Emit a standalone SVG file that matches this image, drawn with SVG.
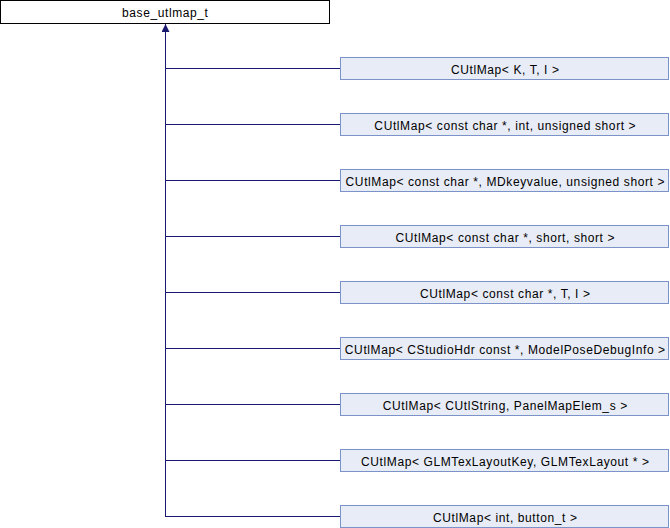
<svg xmlns="http://www.w3.org/2000/svg" width="670" height="528" viewBox="0 0 670 528">
<defs>
<style>
text{font-family:"Liberation Sans",Arial,sans-serif;font-size:12px;letter-spacing:0.6px;fill:#000;text-anchor:middle}
.child rect{fill:#e8ecf6;stroke:#7b93c8;stroke-width:1}
.base rect{fill:#fff;stroke:#000;stroke-width:1}
.edges path{fill:none;stroke:#191970;stroke-width:1}
</style>
<marker id="arr" viewBox="0 0 10 10" refX="10" refY="5" markerWidth="8" markerHeight="8" markerUnits="userSpaceOnUse" orient="auto">
<path d="M0,0 L10,5 L0,10 z" fill="#191970"/>
</marker>
</defs>
<rect width="670" height="528" fill="#fff"/>
<g id="edges" class="edges">
<path d="M165.5,516.5 V24" marker-end="url(#arr)"/>
<path d="M165,68.5 H341"/>
<path d="M165,124.5 H341"/>
<path d="M165,180.5 H341"/>
<path d="M165,236.5 H341"/>
<path d="M165,292.5 H341"/>
<path d="M165,348.5 H341"/>
<path d="M165,404.5 H341"/>
<path d="M165,460.5 H341"/>
<path d="M165,516.5 H341"/>
</g>
<g id="base_utlmap_t" class="base"><rect x="0.5" y="0.5" width="329" height="23"/><text x="165.3" y="16.5">base_utlmap_t</text></g>
<g id="n1" class="child"><rect x="340.5" y="57.5" width="328" height="22"/><text x="505.3" y="73.5">CUtlMap&lt; K, T, I &gt;</text></g>
<g id="n2" class="child"><rect x="340.5" y="113.5" width="328" height="22"/><text x="505.3" y="129.5">CUtlMap&lt; const char *, int, unsigned short &gt;</text></g>
<g id="n3" class="child"><rect x="340.5" y="169.5" width="328" height="22"/><text x="505.3" y="185.5">CUtlMap&lt; const char *, MDkeyvalue, unsigned short &gt;</text></g>
<g id="n4" class="child"><rect x="340.5" y="225.5" width="328" height="22"/><text x="505.3" y="241.5">CUtlMap&lt; const char *, short, short &gt;</text></g>
<g id="n5" class="child"><rect x="340.5" y="281.5" width="328" height="22"/><text x="505.3" y="297.5">CUtlMap&lt; const char *, T, I &gt;</text></g>
<g id="n6" class="child"><rect x="340.5" y="337.5" width="328" height="22"/><text x="505.3" y="353.5">CUtlMap&lt; CStudioHdr const *, ModelPoseDebugInfo &gt;</text></g>
<g id="n7" class="child"><rect x="340.5" y="393.5" width="328" height="22"/><text x="505.3" y="409.5">CUtlMap&lt; CUtlString, PanelMapElem_s &gt;</text></g>
<g id="n8" class="child"><rect x="340.5" y="449.5" width="328" height="22"/><text x="505.3" y="465.5">CUtlMap&lt; GLMTexLayoutKey, GLMTexLayout * &gt;</text></g>
<g id="n9" class="child"><rect x="340.5" y="505.5" width="328" height="22"/><text x="505.3" y="521.5">CUtlMap&lt; int, button_t &gt;</text></g>
</svg>
